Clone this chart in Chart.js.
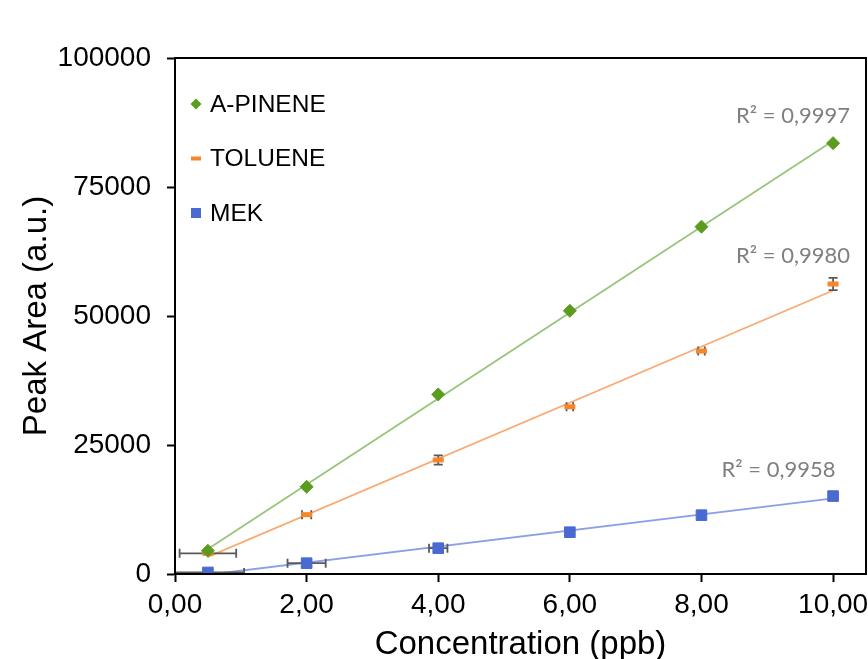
<!DOCTYPE html>
<html>
<head>
<meta charset="utf-8">
<script src="https://cdn.jsdelivr.net/npm/chart.js@4.4.1/dist/chart.umd.min.js"></script>
<style>
  html, body { margin: 0; padding: 0; background: #fff; overflow: hidden; }
  canvas { display: block; }
</style>
</head>
<body>
<canvas id="calChart" width="892" height="659"></canvas>
<script>
// --- dati ---
const concentrations = [0.5, 2, 4, 6, 8, 10];          // ppb
const pineneArea  = [4500, 16900, 34800, 51000, 67300, 83500];
const tolueneArea = [4000, 11500, 22100, 32400, 43200, 56200];
const mekArea     = [300, 2100, 5000, 8100, 11400, 15100];

// barre d'errore (x in ppb, y in a.u.)
const pineneXErr  = [0, 0, 0, 0, 0, 0];
const pineneYErr  = [0, 0, 0, 0, 0, 0];
const tolueneXErr = [0.43, 0.07, 0, 0.05, 0.05, 0];
const tolueneYErr = [0, 0, 900, 0, 0, 1200];
const mekXErr     = [0.55, 0.29, 0.14, 0, 0, 0];
const mekYErr     = [0, 0, 0, 0, 0, 0];

const seriesNames = ['A-PINENE', 'TOLUENE', 'MEK'];
const r2Labels = ['R² = 0,9997', 'R² = 0,9980', 'R² = 0,9958'];
const xTicks = [0, 2, 4, 6, 8, 10];
const yTicks = [0, 25000, 50000, 75000, 100000];

// stile / posizioni
const COLORS = {
    pinene:  { mark: '#5b9b1e', line: '#97c57a' },
    toluene: { mark: '#f5862a', line: '#f9ab74' },
    mek:     { mark: '#4a69d1', line: '#8a9fe4' }
};
const R2_ANCHORS = [ { x: 9.39, y: 88800 }, { x: 9.39, y: 61600 }, { x: 9.17, y: 20200 } ];
const FONT = '"Liberation Sans", Arial, sans-serif';

function toPoints(xs, ys) { return xs.map((x, i) => ({ x: x, y: ys[i] })); }

// retta di regressione lineare (trendline di Excel)
function trendLine(xs, ys) {
    const n = xs.length;
    const mx = xs.reduce((a, b) => a + b, 0) / n;
    const my = ys.reduce((a, b) => a + b, 0) / n;
    let sxy = 0, sxx = 0;
    xs.forEach((x, i) => { sxy += (x - mx) * (ys[i] - my); sxx += (x - mx) * (x - mx); });
    const b = sxy / sxx, a = my - b * mx;
    const x0 = xs[0], x1 = xs[n - 1];
    return [{ x: x0, y: a + b * x0 }, { x: x1, y: a + b * x1 }];
}

function fmtComma(v) { return v.toFixed(2).replace('.', ','); }

const errorBars = [
    { xErr: pineneXErr, yErr: pineneYErr, ys: pineneArea },
    { xErr: tolueneXErr, yErr: tolueneYErr, ys: tolueneArea },
    { xErr: mekXErr, yErr: mekYErr, ys: mekArea }
];

const errorBarPlugin = {
    id: 'errorBars',
    beforeDatasetDraw(chart, args) {
        const eb = chart.data.datasets[args.index].errIndex;
        if (eb === undefined) return;
        const e = errorBars[eb];
        const sx = chart.scales.x, sy = chart.scales.y, ctx = chart.ctx, a = chart.chartArea;
        ctx.save();
        ctx.beginPath();
        ctx.rect(a.left, a.top, a.right - a.left, a.bottom - a.top);
        ctx.clip();
        ctx.strokeStyle = '#595959';
        ctx.lineWidth = 1.8;
        const cap = 4.5;
        concentrations.forEach((x, i) => {
            const px = sx.getPixelForValue(x), py = sy.getPixelForValue(e.ys[i]);
            if (e.xErr[i] > 0) {
                const l = sx.getPixelForValue(x - e.xErr[i]), r = sx.getPixelForValue(x + e.xErr[i]);
                ctx.beginPath();
                ctx.moveTo(l, py); ctx.lineTo(r, py);
                ctx.moveTo(l, py - cap); ctx.lineTo(l, py + cap);
                ctx.moveTo(r, py - cap); ctx.lineTo(r, py + cap);
                ctx.stroke();
            }
            if (e.yErr[i] > 0) {
                const t = sy.getPixelForValue(e.ys[i] + e.yErr[i]), b = sy.getPixelForValue(e.ys[i] - e.yErr[i]);
                ctx.beginPath();
                ctx.moveTo(px, t); ctx.lineTo(px, b);
                ctx.moveTo(px - cap, t); ctx.lineTo(px + cap, t);
                ctx.moveTo(px - cap, b); ctx.lineTo(px + cap, b);
                ctx.stroke();
            }
        });
        ctx.restore();
    }
};

const framePlugin = {
    id: 'frameAndLabels',
    afterDraw(chart) {
        const ctx = chart.ctx, a = chart.chartArea, sx = chart.scales.x, sy = chart.scales.y;
        ctx.save();
        // cornice
        ctx.strokeStyle = '#000';
        ctx.lineWidth = 2;
        ctx.strokeRect(a.left, a.top, a.right - a.left, a.bottom - a.top);

        // R²
        ctx.fillStyle = '#7f7f7f';
        ctx.font = '22px Lato, "Open Sans", sans-serif';
        ctx.textAlign = 'center';
        ctx.textBaseline = 'middle';
        r2Labels.forEach((t, i) => {
            ctx.fillText(t, sx.getPixelForValue(R2_ANCHORS[i].x), sy.getPixelForValue(R2_ANCHORS[i].y));
        });

        // legenda
        const lx = a.left + 21, ly0 = a.top + 46, step = 54.5;
        ctx.font = '24.5px ' + FONT;
        ctx.textAlign = 'left';
        ctx.fillStyle = '#000';
        seriesNames.forEach((name, i) => {
            const y = ly0 + i * step;
            if (i === 0) {
                ctx.fillStyle = COLORS.pinene.mark;
                ctx.beginPath();
                ctx.moveTo(lx, y - 5.5); ctx.lineTo(lx + 5.5, y); ctx.lineTo(lx, y + 5.5); ctx.lineTo(lx - 5.5, y);
                ctx.closePath(); ctx.fill();
            } else if (i === 1) {
                ctx.fillStyle = COLORS.toluene.mark;
                ctx.fillRect(lx - 5, y - 2, 10, 4);
            } else {
                ctx.fillStyle = COLORS.mek.mark;
                ctx.fillRect(lx - 5, y - 5, 10, 10);
            }
            ctx.fillStyle = '#000';
            ctx.fillText(name, lx + 14, y + 1);
        });
        ctx.restore();
    }
};

const ctx = document.getElementById('calChart').getContext('2d');
const chart = new Chart(ctx, {
    type: 'scatter',
    data: {
        datasets: [
            { data: trendLine(concentrations, pineneArea), showLine: true, pointRadius: 0, borderColor: COLORS.pinene.line, borderWidth: 1.8, order: 5 },
            { data: trendLine(concentrations, tolueneArea), showLine: true, pointRadius: 0, borderColor: COLORS.toluene.line, borderWidth: 1.8, order: 5 },
            { data: trendLine(concentrations, mekArea), showLine: true, pointRadius: 0, borderColor: COLORS.mek.line, borderWidth: 1.8, order: 5 },
            { label: seriesNames[2], errIndex: 2, data: toPoints(concentrations, mekArea), pointStyle: 'rect', pointRadius: 7.5,
              backgroundColor: COLORS.mek.mark, borderColor: COLORS.mek.mark, borderWidth: 1, order: 3 },
            { label: seriesNames[1], errIndex: 1, data: toPoints(concentrations, tolueneArea), pointStyle: 'line', pointRadius: 5.5,
              backgroundColor: COLORS.toluene.mark, borderColor: COLORS.toluene.mark, borderWidth: 5, order: 2 },
            { label: seriesNames[0], errIndex: 0, data: toPoints(concentrations, pineneArea), pointStyle: 'rectRot', pointRadius: 6.5,
              backgroundColor: COLORS.pinene.mark, borderColor: COLORS.pinene.mark, borderWidth: 1, order: 1 }
        ]
    },
    options: {
        responsive: false,
        animation: false,
        layout: { padding: { top: 58, right: 26, left: 0, bottom: 0 } },
        plugins: { legend: { display: false }, tooltip: { enabled: false } },
        scales: {
            x: {
                type: 'linear', min: 0, max: 10.5,
                afterBuildTicks: s => { s.ticks = xTicks.map(v => ({ value: v })); },
                afterFit: s => { s.height = 85; },
                ticks: { color: '#000', font: { family: FONT, size: 28 }, padding: 6, callback: v => fmtComma(v) },
                grid: { drawOnChartArea: false, tickLength: 8, tickWidth: 2, tickColor: '#000' },
                border: { color: '#000', width: 2 },
                title: { display: true, text: 'Concentration (ppb)', color: '#000',
                         font: { family: FONT, size: 33, lineHeight: 1.2 }, padding: { top: 0, bottom: -6 } }
            },
            y: {
                min: 0, max: 100000,
                afterBuildTicks: s => { s.ticks = yTicks.map(v => ({ value: v })); },
                afterFit: s => { s.width = 175; },
                ticks: { color: '#000', font: { family: FONT, size: 28 }, padding: 16, callback: v => String(v) },
                grid: { drawOnChartArea: false, tickLength: 8, tickWidth: 2, tickColor: '#000' },
                border: { color: '#000', width: 2 },
                title: { display: true, text: 'Peak Area (a.u.)', color: '#000',
                         font: { family: FONT, size: 33, lineHeight: 1.2 }, padding: { top: 17, bottom: 0 } }
            }
        }
    },
    plugins: [errorBarPlugin, framePlugin]
});
</script>
</body>
</html>
